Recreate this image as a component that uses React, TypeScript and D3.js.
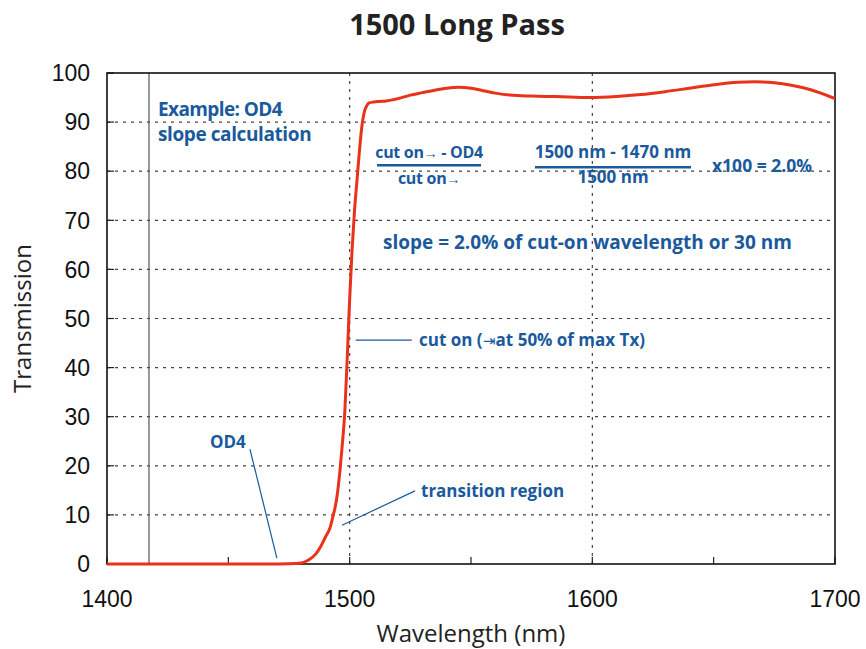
import * as d3 from "d3";

const wavelengths = [
  1400, 1420, 1440, 1460, 1470, 1475, 1480, 1483, 1486, 1488, 1490, 1492, 1493, 1494,
  1495, 1496, 1497, 1498, 1499, 1500, 1501, 1502, 1503, 1504, 1505, 1506, 1507, 1508,
  1510, 1512, 1515, 1520, 1525, 1530, 1535, 1540, 1545, 1550, 1555, 1560, 1566, 1575,
  1585, 1599, 1610, 1620, 1630, 1640, 1650, 1660, 1667, 1675, 1682, 1690, 1700,
];
const transmission = [
  0, 0, 0, 0, 0.02, 0.05, 0.2, 0.8, 2.0, 3.5, 5.5, 7.5, 9.5, 11.5,
  14.5, 19, 24.5, 31, 42, 54, 64, 72, 78, 84, 89, 92, 93.3, 93.9,
  94.1, 94.2, 94.3, 94.8, 95.5, 96.0, 96.5, 96.9, 97.1, 96.9, 96.4, 95.9, 95.5, 95.3,
  95.2, 95.0, 95.2, 95.6, 96.2, 96.9, 97.6, 98.1, 98.2, 98.0, 97.5, 96.6, 94.8,
];

const xTicks = [1400, 1500, 1600, 1700];
const xMinorTicks = [1450, 1550, 1650];
const yTicks = [0, 10, 20, 30, 40, 50, 60, 70, 80, 90, 100];
const gridX = [1500, 1600];
const gridY = [10, 20, 30, 40, 50, 60, 70, 80, 90];
const markerWavelength = 1417.3;

const blue = "#1a5a9c";
const red = "#e8321a";
const labelFont = "'Open Sans', sans-serif";
const tickFont = "'Liberation Sans', Arial, sans-serif";

export default function App() {
  const width = 866;
  const height = 649;
  const margin = { top: 73, right: 31, bottom: 85, left: 107 };

  const x = d3.scaleLinear([1400, 1700], [margin.left, width - margin.right]);
  const y = d3.scaleLinear([0, 100], [height - margin.bottom, margin.top]);

  const points = wavelengths.map((w, i) => [w, transmission[i]] as [number, number]);
  const line = d3
    .line<[number, number]>()
    .x((d) => x(d[0]))
    .y((d) => y(d[1]))
    .curve(d3.curveMonotoneX);

  const x0 = margin.left;
  const x1 = width - margin.right;
  const y0 = height - margin.bottom;
  const y1 = margin.top;

  return (
    <svg
      width={width}
      height={height}
      viewBox={`0 0 ${width} ${height}`}
      style={{ position: "fixed", left: 0, top: 0, background: "#fff" }}
    >
      <text
        x={457}
        y={35}
        textAnchor="middle"
        fontFamily={labelFont}
        fontWeight={700}
        fontSize={29}
        fill="#222"
      >
        1500 Long Pass
      </text>

      {/* grid */}
      {gridY.map((v) => (
        <line
          key={"gy" + v}
          x1={x0}
          x2={x1}
          y1={y(v)}
          y2={y(v)}
          stroke="#444"
          strokeWidth={1.2}
          strokeDasharray="3 5"
        />
      ))}
      {gridX.map((v) => (
        <line
          key={"gx" + v}
          x1={x(v)}
          x2={x(v)}
          y1={y0}
          y2={y1}
          stroke="#444"
          strokeWidth={1.2}
          strokeDasharray="3 5"
        />
      ))}
      <line
        x1={x(markerWavelength)}
        x2={x(markerWavelength)}
        y1={y0}
        y2={y1}
        stroke="#555"
        strokeWidth={1.2}
      />

      {/* ticks */}
      {yTicks.map((v) => (
        <g key={"yt" + v}>
          <line x1={x0} x2={x0 + 7} y1={y(v)} y2={y(v)} stroke="#222" strokeWidth={1.2} />
          <text
            x={90}
            y={y(v)}
            dy="0.36em"
            textAnchor="end"
            fontFamily={tickFont}
            fontSize={23}
            fill="#111"
          >
            {v}
          </text>
        </g>
      ))}
      {[...xTicks, ...xMinorTicks].map((v) => (
        <line key={"xt" + v} x1={x(v)} x2={x(v)} y1={y0} y2={y0 - 7} stroke="#222" strokeWidth={1.2} />
      ))}
      {xTicks.map((v) => (
        <text
          key={"xl" + v}
          x={x(v)}
          y={607}
          textAnchor="middle"
          fontFamily={tickFont}
          fontSize={23}
          fill="#111"
        >
          {v}
        </text>
      ))}

      {/* frame */}
      <rect x={x0} y={y1} width={x1 - x0} height={y0 - y1} fill="none" stroke="#111" strokeWidth={1.6} />

      <path d={line(points) ?? ""} fill="none" stroke={red} strokeWidth={3} strokeLinejoin="round" />

      {/* axis titles */}
      <text
        transform={`translate(31, ${(y0 + y1) / 2}) rotate(-90)`}
        textAnchor="middle"
        fontFamily={labelFont}
        fontSize={24}
        fill="#222"
      >
        Transmission
      </text>
      <text
        x={471}
        y={642}
        textAnchor="middle"
        fontFamily={labelFont}
        fontSize={24}
        fill="#222"
      >
        Wavelength (nm)
      </text>

      {/* annotations */}
      <g fontFamily={labelFont} fontWeight={700} fill={blue}>
        <text x={x(1421)} y={y(91.2)} fontSize={19} letterSpacing={-0.6}>Example: OD4</text>
        <text x={x(1421)} y={y(86.2)} fontSize={19} letterSpacing={-0.4}>slope calculation</text>

        <text x={429} y={y(82.6)} textAnchor="middle" fontSize={16} letterSpacing={-0.3}>
          cut on<tspan fontSize={14} fontWeight={400}>→</tspan> - OD4
        </text>
        <line x1={377} x2={481} y1={y(81.2)} y2={y(81.2)} stroke={blue} strokeWidth={2.6} />
        <text x={429} y={y(77.3)} textAnchor="middle" fontSize={16} letterSpacing={-0.3}>
          cut on<tspan fontSize={14} fontWeight={400}>→</tspan>
        </text>

        <text x={613} y={y(82.6)} textAnchor="middle" fontSize={17}>1500 nm - 1470 nm</text>
        <line x1={535} x2={691} y1={y(80.8)} y2={y(80.8)} stroke={blue} strokeWidth={2.6} />
        <text x={613} y={y(77.5)} textAnchor="middle" fontSize={17}>1500 nm</text>
        <text x={712} y={y(79.8)} fontSize={17.5}>x100 = 2.0%</text>

        <text x={383} y={y(64.1)} fontSize={19}>slope = 2.0% of cut-on wavelength or 30 nm</text>

        <line x1={x(1502.5)} x2={x(1525.6)} y1={y(45.6)} y2={y(45.6)} stroke={blue} strokeWidth={1.2} />
        <text x={419} y={y(44.4)} fontSize={17}>
          cut on (<tspan fontSize={15} fontWeight={400}>⇥</tspan>at 50% of max Tx)
        </text>

        <text x={210} y={y(23.6)} fontSize={17}>OD4</text>
        <line x1={x(1458.9)} y1={y(23.4)} x2={x(1470)} y2={y(1.2)} stroke={blue} strokeWidth={1.2} />

        <text x={421} y={y(13.7)} fontSize={17}>transition region</text>
        <line x1={415} y1={y(14.9)} x2={342} y2={y(7.9)} stroke={blue} strokeWidth={1.2} />
      </g>
    </svg>
  );
}
